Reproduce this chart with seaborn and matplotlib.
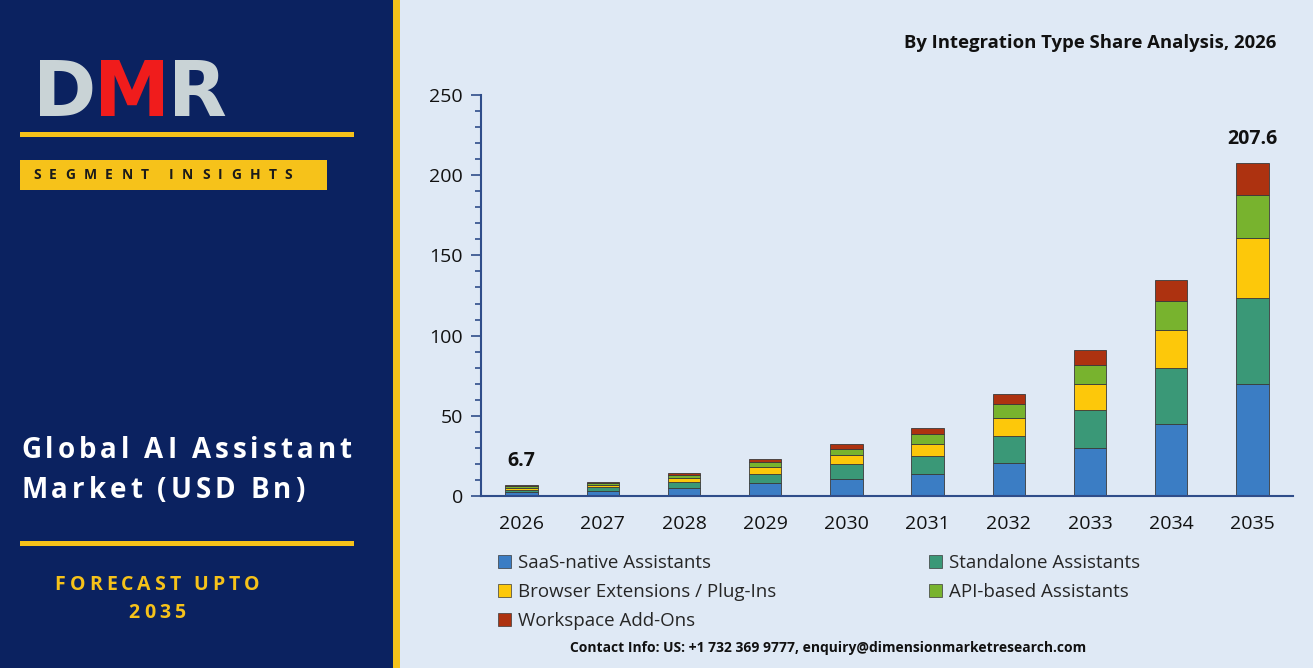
import numpy as np
import pandas as pd
import seaborn as sns
import matplotlib.pyplot as plt
from matplotlib.patches import Rectangle, Patch

# chart data (USD Bn)
years = ["2026", "2027", "2028", "2029", "2030", "2031", "2032", "2033", "2034", "2035"]
segments = ["SaaS-native Assistants", "Standalone Assistants",
            "Browser Extensions / Plug-Ins", "API-based Assistants", "Workspace Add-Ons"]
saas_native = [2.2, 3.0, 4.8, 7.8, 10.9, 14.0, 20.8, 29.9, 44.7, 69.6]
standalone = [1.7, 2.3, 3.7, 6.0, 8.8, 10.9, 16.6, 23.5, 35.1, 53.8]
browser_ext = [1.2, 1.6, 2.6, 4.2, 5.8, 7.8, 11.5, 16.2, 23.9, 37.5]
api_based = [0.9, 1.2, 1.8, 3.0, 4.1, 5.8, 8.3, 11.9, 17.7, 26.6]
workspace = [0.7, 0.9, 1.4, 2.3, 3.1, 4.1, 6.6, 9.3, 13.1, 20.1]
totals_shown = {"2026": 6.7, "2035": 207.6}

colors = ["#3b7dc4", "#3a9877", "#fdc80a", "#78b32e", "#ad3210"]
navy = "#0b2260"
gold = "#f6c21a"
panel_bg = "#dfe9f5"

sns.set_style("white")
plt.rcParams['font.family'] = ['Open Sans', 'DejaVu Sans']

W, H = 1313, 668
fig = plt.figure(figsize=(13.13, 6.68), dpi=100)
fig.patch.set_facecolor(panel_bg)
renderer = fig.canvas.get_renderer()


def spaced_text(x, y, s, gap, **kw):
    # draw text letter by letter (pixel coords from top-left) with extra spacing
    cx = x
    for ch in s:
        if ch == " ":
            cx += kw.get("fontsize", 10) * 0.35 + gap
            continue
        t = fig.text(cx / W, 1 - y / H, ch, va="center", **kw)
        cx += t.get_window_extent(renderer).width + gap
    return cx


def centered_spaced(xc, y, s, gap, **kw):
    end = spaced_text(0, -100, s, gap, **kw)
    for t in fig.texts[-len(s.replace(" ", "")):]:
        t.remove()
    return spaced_text(xc - (end - gap) / 2, y, s, gap, **kw)


# left panel
fig.patches.append(Rectangle((0, 0), 393 / W, 1, transform=fig.transFigure,
                             facecolor=navy, edgecolor="none", zorder=0))
fig.patches.append(Rectangle((393 / W, 0), 7 / W, 1, transform=fig.transFigure,
                             facecolor=gold, edgecolor="none", zorder=0))

# DMR logo
lx = 33
for ch, c in zip("DMR", ["#c9d3d6", "#f01c1c", "#c9d3d6"]):
    t = fig.text(lx / W, 1 - 116 / H, ch, color=c, fontsize=55, fontweight="bold",
                 family="DejaVu Sans", va="baseline")
    lx += t.get_window_extent(renderer).width - 2

fig.patches.append(Rectangle((20 / W, 1 - 137 / H), 334 / W, 5 / H,
                             transform=fig.transFigure, facecolor=gold, edgecolor="none"))
fig.patches.append(Rectangle((20 / W, 1 - 190 / H), 307 / W, 30 / H,
                             transform=fig.transFigure, facecolor=gold, edgecolor="none"))
spaced_text(33, 175, "SEGMENT INSIGHTS", 8.4, color="#1a1a1a", fontsize=10, fontweight="bold")

spaced_text(21, 451, "Global AI Assistant", 4.0, color="white", fontsize=20, fontweight="bold")
spaced_text(21, 491, "Market (USD Bn)", 4.0, color="white", fontsize=20, fontweight="bold")
fig.patches.append(Rectangle((20 / W, 1 - 546 / H), 334 / W, 5 / H,
                             transform=fig.transFigure, facecolor=gold, edgecolor="none"))
centered_spaced(157, 585, "FORECAST UPTO", 4.0, color=gold, fontsize=14, fontweight="bold")
centered_spaced(157, 613, "2035", 4.0, color=gold, fontsize=14, fontweight="bold")

# chart
ax = fig.add_axes([481 / W, 1 - 496 / H, 812 / W, 401 / H])
ax.set_facecolor("none")

df = pd.DataFrame({"year": years, "SaaS": saas_native, "Standalone": standalone,
                   "Browser": browser_ext, "API": api_based, "Workspace": workspace})
cols = ["SaaS", "Standalone", "Browser", "API", "Workspace"]
bottom = np.zeros(len(years))
for col, name, c in zip(cols, segments, colors):
    sns.barplot(data=df, x="year", y=col, bottom=bottom, color=c, width=0.4,
                edgecolor="#3a3a3a", linewidth=0.6, ax=ax, saturation=1, label=name)
    bottom = bottom + df[col].values

for yr, val in totals_shown.items():
    i = years.index(yr)
    ax.text(i, bottom[i] + 15, f"{val}", ha="center", va="center",
            fontsize=14, fontweight="bold", color="#111111")

ax.set_ylim(0, 250)
ax.set_xlim(-0.5, 9.5)
ax.set_yticks(range(0, 251, 50))
ax.set_yticks(range(0, 251, 10), minor=True)
ax.tick_params(axis="y", which="major", length=7, width=1.2, color="#2f4d8a",
               labelsize=14, labelcolor="#111111", left=True, pad=6)
ax.tick_params(axis="y", which="minor", length=4, width=1.2, color="#2f4d8a", left=True)
ax.tick_params(axis="x", length=0, labelsize=14, labelcolor="#111111", pad=14)
for s in ["top", "right"]:
    ax.spines[s].set_visible(False)
for s in ["left", "bottom"]:
    ax.spines[s].set_color("#2f4d8a")
    ax.spines[s].set_linewidth(1.5)
ax.set_xlabel("")
ax.set_ylabel("")
if ax.get_legend() is not None:
    ax.get_legend().remove()

# legend reads row by row; matplotlib fills columns first
order = [0, 2, 4, 1, 3]
handles = [Patch(facecolor=colors[i], edgecolor="#3a3a3a", linewidth=0.5) for i in order]
fig.legend(handles, [segments[i] for i in order], ncol=2, loc="upper left",
           bbox_to_anchor=(481 / W, 1 - 537 / H), frameon=False, fontsize=13.5,
           handlelength=0.7, handleheight=0.7, handletextpad=0.4, columnspacing=8.1,
           labelspacing=0.6)

fig.text(1276 / W, 1 - 43 / H, "By Integration Type Share Analysis, 2026",
         ha="right", va="center", fontsize=13.3, fontweight="bold", color="#111111")
fig.text(828 / W, 1 - 648 / H,
         "Contact Info: US: +1 732 369 9777, enquiry@dimensionmarketresearch.com",
         ha="center", va="center", fontsize=10, fontweight="bold", color="#111111")

fig.savefig("out.png", dpi=100, facecolor=fig.get_facecolor())
